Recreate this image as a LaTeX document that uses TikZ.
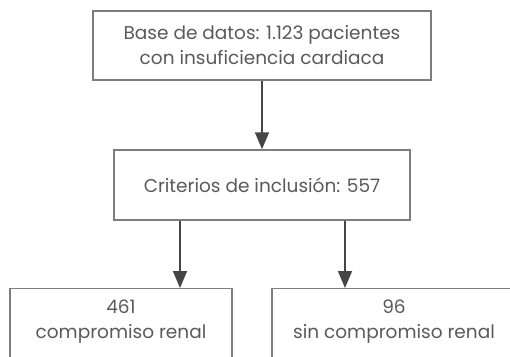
\documentclass[tikz,border=0pt]{standalone}
\usepackage{fontspec}
\setmainfont{Poppins}
\usetikzlibrary{arrows.meta, positioning}
\definecolor{boxgray}{RGB}{125,125,125}
\definecolor{textgray}{RGB}{90,90,90}
\definecolor{arrowgray}{RGB}{70,70,70}

\begin{document}
\begin{tikzpicture}[x=1pt, y=-1pt,
  box/.style={draw=boxgray, line width=1.4pt, fill=white, align=center,
              font=\fontsize{18.5}{25}\selectfont, text=textgray, inner sep=0pt},
  arr/.style={draw=boxgray!90!black, line width=1.6pt, arrowgray,
              -{Triangle[length=17pt, width=14pt]}},
]
\useasboundingbox (0,0) rectangle (510,356);

% Database
\node[box, minimum width=338pt, minimum height=69pt] (db) at (262,45.5)
{Base de datos: 1.123 pacientes\\con insuficiencia cardiaca};

% Inclusion
\node[box, minimum width=296pt, minimum height=70pt] (incl) at (262,185)
{Criterios de inclusión: 557};

% Groups
\node[box, anchor=north, minimum width=222pt, inner ysep=11pt, text depth=50pt] (renal) at (121,288)
{461\\compromiso renal};
\node[box, anchor=north, minimum width=244pt, inner ysep=11pt, text depth=50pt] (norenal) at (394,288)
{96\\sin compromiso renal};

\draw[arr] (db) -- (incl);
\draw[arr] ([xshift=-82pt]incl.south) -- ([xshift=59pt]renal.north);
\draw[arr] ([xshift=83pt]incl.south) -- ([xshift=-49pt]norenal.north);
\end{tikzpicture}
\end{document}
